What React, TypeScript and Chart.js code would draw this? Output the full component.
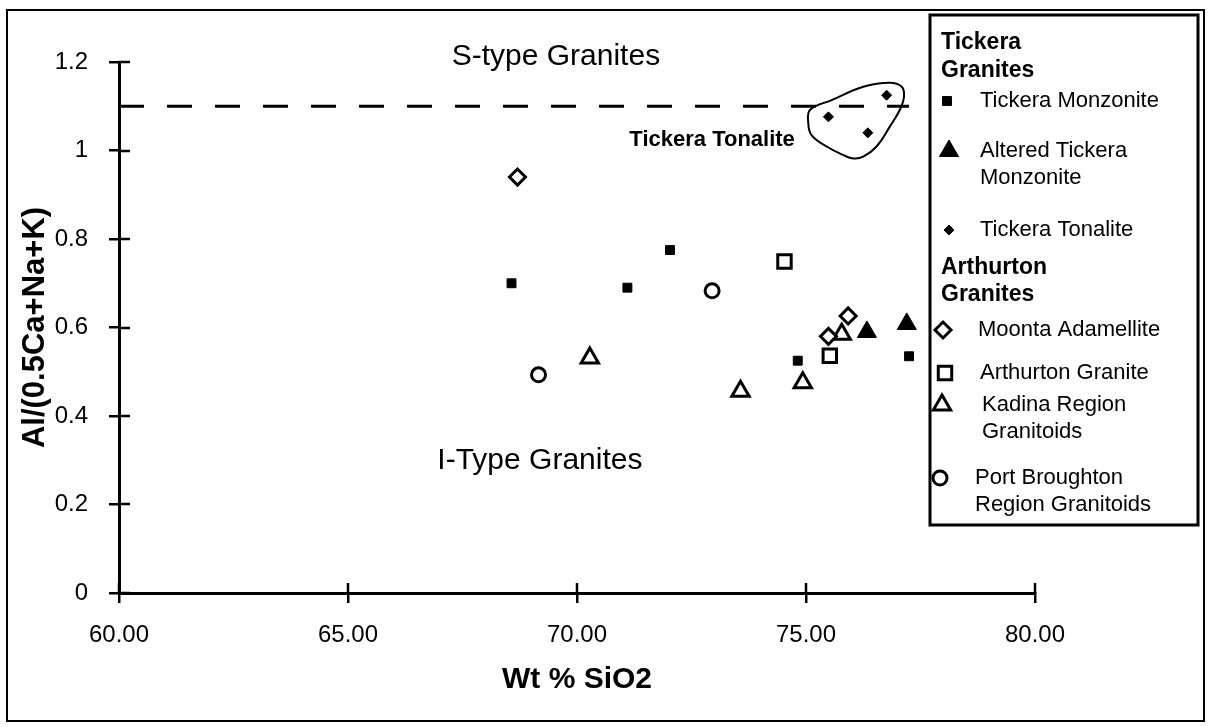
import React, { useEffect, useRef } from "react";
import { Chart, registerables } from "chart.js";
import { drawPoint } from "chart.js/helpers";

Chart.register(...registerables);

// ---------- data ----------
const seriesNames = [
  "Tickera Monzonite",
  "Altered Tickera Monzonite",
  "Tickera Tonalite",
  "Moonta Adamellite",
  "Arthurton Granite",
  "Kadina Region Granitoids",
  "Port Broughton Region Granitoids",
];

const tickeraMonzoniteX = [68.57, 71.1, 72.03, 74.82, 77.25];
const tickeraMonzoniteY = [0.7, 0.69, 0.775, 0.525, 0.535];

const alteredMonzoniteX = [76.33, 77.2];
const alteredMonzoniteY = [0.59, 0.608];

const tickeraTonaliteX = [75.49, 76.35, 76.76];
const tickeraTonaliteY = [1.076, 1.04, 1.125];

const moontaX = [68.7, 75.49, 75.92];
const moontaY = [0.94, 0.58, 0.626];

const arthurtonX = [74.53, 75.52];
const arthurtonY = [0.749, 0.536];

const kadinaX = [70.28, 73.57, 74.93, 75.78];
const kadinaY = [0.531, 0.456, 0.475, 0.585];

const portBroughtonX = [69.16, 72.95];
const portBroughtonY = [0.493, 0.683];

const xTickValues = [60, 65, 70, 75, 80];
const xTickLabels = ["60.00", "65.00", "70.00", "75.00", "80.00"];
const yTickValues = [0, 0.2, 0.4, 0.6, 0.8, 1, 1.2];
const yTickLabels = ["0", "0.2", "0.4", "0.6", "0.8", "1", "1.2"];

const boundaryX = [60, 77.25];
const boundaryY = [1.1, 1.1];

const outlineX = [75.56, 76.25, 76.83, 77.09, 77.14, 77.05, 76.83, 76.54, 76.25, 76.03, 75.81, 75.45, 75.12, 75.05, 75.09, 75.56];
const outlineY = [1.114, 1.144, 1.153, 1.144, 1.122, 1.092, 1.054, 1.009, 0.986, 0.982, 0.99, 1.009, 1.035, 1.061, 1.092, 1.114];

const seriesX = [tickeraMonzoniteX, alteredMonzoniteX, tickeraTonaliteX, moontaX, arthurtonX, kadinaX, portBroughtonX];
const seriesY = [tickeraMonzoniteY, alteredMonzoniteY, tickeraTonaliteY, moontaY, arthurtonY, kadinaY, portBroughtonY];

// ---------- styles ----------
const FONT = "'Liberation Sans', Arial, Helvetica, sans-serif";
const seriesStyles = [
  { pointStyle: "rect", radius: 6.3, borderWidth: 1, fill: "#000" },
  { pointStyle: "triangle", radius: 11, borderWidth: 1, fill: "#000" },
  { pointStyle: "rectRot", radius: 5, borderWidth: 1, fill: "#000" },
  { pointStyle: "rectRot", radius: 8, borderWidth: 3, fill: "#fff" },
  { pointStyle: "rect", radius: 9.5, borderWidth: 3, fill: "#fff" },
  { pointStyle: "triangle", radius: 10, borderWidth: 3, fill: "#fff" },
  { pointStyle: "circle", radius: 7, borderWidth: 3, fill: "#fff" },
];

const annotations = [
  { text: "S-type Granites", x: 69.54, y: 1.211, font: `30px ${FONT}` },
  { text: "I-Type Granites", x: 69.19, y: 0.298, font: `30px ${FONT}` },
  { text: "Tickera Tonalite", x: 72.95, y: 1.024, font: `bold 22px ${FONT}` },
];

// legend rows (layout in pixels)
type Row = { kind: "head" | "item" | "cont"; text: string; y: number; series?: number; mx?: number; tx?: number };
const legendRows: Row[] = [
  { kind: "head", text: "Tickera", y: 43 },
  { kind: "head", text: "Granites", y: 71 },
  { kind: "item", text: "Tickera Monzonite", y: 101, series: 0, mx: 947, tx: 980 },
  { kind: "item", text: "Altered Tickera", y: 151, series: 1, mx: 949, tx: 980 },
  { kind: "cont", text: "Monzonite", y: 178, tx: 980 },
  { kind: "item", text: "Tickera Tonalite", y: 230, series: 2, mx: 949, tx: 980 },
  { kind: "head", text: "Arthurton", y: 268 },
  { kind: "head", text: "Granites", y: 295 },
  { kind: "item", text: "Moonta Adamellite", y: 330, series: 3, mx: 943, tx: 978 },
  { kind: "item", text: "Arthurton Granite", y: 373, series: 4, mx: 945, tx: 980 },
  { kind: "item", text: "Kadina Region", y: 405, series: 5, mx: 942, tx: 982 },
  { kind: "cont", text: "Granitoids", y: 432, tx: 982 },
  { kind: "item", text: "Port Broughton", y: 478, series: 6, mx: 940, tx: 975 },
  { kind: "cont", text: "Region Granitoids", y: 505, tx: 975 },
];

const bgPlugin = {
  id: "bg",
  beforeDraw(chart: any) {
    const { ctx, width, height } = chart;
    ctx.save();
    ctx.fillStyle = "#fff";
    ctx.fillRect(0, 0, width, height);
    ctx.restore();
  },
};

const decorPlugin = {
  id: "decor",
  afterDatasetsDraw(chart: any) {
    const { ctx } = chart;
    const xs = chart.scales.x;
    const ys = chart.scales.y;
    ctx.save();
    ctx.fillStyle = "#000";
    ctx.textAlign = "center";
    ctx.textBaseline = "middle";
    for (const a of annotations) {
      ctx.font = a.font;
      ctx.fillText(a.text, xs.getPixelForValue(a.x), ys.getPixelForValue(a.y));
    }
    ctx.restore();
  },
  afterDraw(chart: any) {
    const { ctx, chartArea } = chart;
    const xs = chart.scales.x;
    const ys = chart.scales.y;
    ctx.save();
    // inward tick stubs
    ctx.strokeStyle = "#000";
    ctx.lineWidth = 2.5;
    ctx.beginPath();
    for (const v of xTickValues) {
      const px = Math.round(xs.getPixelForValue(v));
      ctx.moveTo(px, chartArea.bottom);
      ctx.lineTo(px, chartArea.bottom - 10);
    }
    for (const v of yTickValues) {
      const py = Math.round(ys.getPixelForValue(v));
      ctx.moveTo(chartArea.left, py);
      ctx.lineTo(chartArea.left + 11, py);
    }
    ctx.stroke();

    // figure frame
    ctx.lineWidth = 2;
    ctx.strokeRect(7, 10, 1197, 711);

    // legend box
    ctx.fillStyle = "#fff";
    ctx.fillRect(930, 15, 268, 510);
    ctx.lineWidth = 3;
    ctx.strokeRect(930, 15, 268, 510);

    // legend content
    ctx.fillStyle = "#000";
    ctx.textAlign = "left";
    ctx.textBaseline = "middle";
    for (const r of legendRows) {
      if (r.kind === "head") {
        ctx.font = `bold 23px ${FONT}`;
        ctx.fillStyle = "#000";
        ctx.fillText(r.text, 941, r.y);
        continue;
      }
      if (r.kind === "item" && r.series !== undefined) {
        const st = seriesStyles[r.series];
        ctx.fillStyle = st.fill;
        ctx.strokeStyle = "#000";
        ctx.lineWidth = st.borderWidth;
        drawPoint(ctx, { pointStyle: st.pointStyle as any, radius: st.radius, rotation: 0, borderWidth: st.borderWidth }, r.mx as number, r.y);
      }
      ctx.font = `22px ${FONT}`;
      ctx.fillStyle = "#000";
      ctx.fillText(r.text, r.tx as number, r.y);
    }
    ctx.restore();
  },
};

export default function App() {
  const ref = useRef<HTMLCanvasElement | null>(null);

  useEffect(() => {
    document.body.style.margin = "0";
    if (!ref.current) return;

    const pointDatasets = seriesNames.map((name, i) => ({
      type: "scatter" as const,
      label: name,
      data: seriesX[i].map((x, j) => ({ x, y: seriesY[i][j] })),
      pointStyle: seriesStyles[i].pointStyle,
      pointRadius: seriesStyles[i].radius,
      pointBorderWidth: seriesStyles[i].borderWidth,
      pointBackgroundColor: seriesStyles[i].fill,
      pointBorderColor: "#000",
      showLine: false,
    }));

    const chart = new Chart(ref.current, {
      type: "scatter",
      data: {
        datasets: [
          {
            type: "line",
            label: "boundary",
            data: boundaryX.map((x, j) => ({ x, y: boundaryY[j] })),
            borderColor: "#000",
            borderWidth: 3,
            borderDash: [25, 23],
            pointRadius: 0,
            fill: false,
          } as any,
          {
            type: "line",
            label: "outline",
            data: outlineX.map((x, j) => ({ x, y: outlineY[j] })),
            borderColor: "#000",
            borderWidth: 2,
            tension: 0.4,
            pointRadius: 0,
            fill: false,
          } as any,
          ...pointDatasets,
        ],
      },
      options: {
        animation: false,
        responsive: false,
        devicePixelRatio: 1,
        events: [],
        layout: { padding: { left: 0, top: 62, right: 174, bottom: 0 } },
        plugins: { legend: { display: false }, tooltip: { enabled: false } },
        scales: {
          x: {
            type: "linear",
            min: 60,
            max: 80,
            afterFit: (s: any) => {
              s.height = 134;
            },
            afterBuildTicks: (s: any) => {
              s.ticks = xTickValues.map((v) => ({ value: v }));
            },
            ticks: {
              color: "#000",
              font: { size: 24, family: FONT },
              padding: 18,
              maxRotation: 0,
              callback: (v: any) => {
                const i = xTickValues.indexOf(Number(v));
                return i >= 0 ? xTickLabels[i] : "";
              },
            },
            grid: { drawOnChartArea: false, drawTicks: true, tickLength: 10, color: "#000", lineWidth: 2.5 },
            border: { display: true, color: "#000", width: 3 },
            title: {
              display: true,
              text: "Wt % SiO2",
              color: "#000",
              font: { size: 30, weight: "bold", family: FONT },
              padding: { top: 0, bottom: 29 },
            },
          },
          y: {
            type: "linear",
            min: 0,
            max: 1.2,
            afterFit: (s: any) => {
              s.width = 119;
            },
            afterBuildTicks: (s: any) => {
              s.ticks = yTickValues.map((v) => ({ value: v }));
            },
            ticks: {
              color: "#000",
              font: { size: 24, family: FONT },
              padding: 21,
              callback: (v: any) => {
                const i = yTickValues.findIndex((t) => Math.abs(t - Number(v)) < 1e-6);
                return i >= 0 ? yTickLabels[i] : "";
              },
            },
            grid: { drawOnChartArea: false, drawTicks: true, tickLength: 10, color: "#000", lineWidth: 2.5 },
            border: { display: true, color: "#000", width: 3 },
            title: {
              display: true,
              text: "Al/(0.5Ca+Na+K)",
              color: "#000",
              font: { size: 31, weight: "bold", family: FONT },
              padding: { top: 17, bottom: 0 },
            },
          },
        },
      },
      plugins: [bgPlugin, decorPlugin],
    });

    return () => chart.destroy();
  }, []);

  return (
    <div style={{ width: 1209, height: 727 }}>
      <canvas ref={ref} width={1209} height={727} style={{ display: "block" }} />
    </div>
  );
}
